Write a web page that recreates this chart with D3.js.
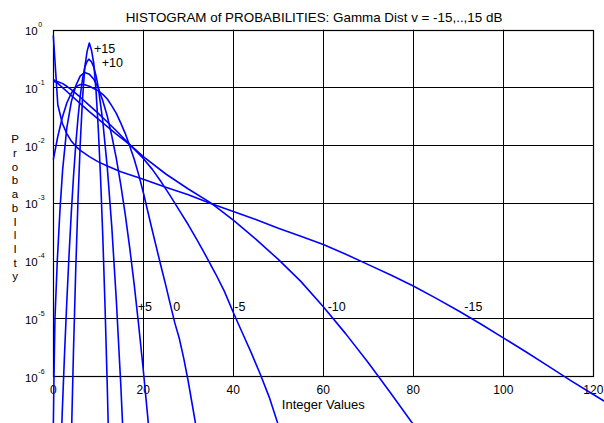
<!DOCTYPE html>
<html><head><meta charset="utf-8">
<script src="https://cdn.jsdelivr.net/npm/d3@7"></script>
<style>
body{margin:0;background:#fff}
svg{display:block}
text{font-family:Arial,"Liberation Sans",sans-serif;fill:#000}
</style>
</head><body>
<svg id="chart" width="604" height="423"></svg>
<script>
// ---------- data ----------
const titleText = "HISTOGRAM of PROBABILITIES: Gamma Dist v = -15,..,15 dB";
const xTickValues = [0, 20, 40, 60, 80, 100, 120];
const yTickExponents = [0, -1, -2, -3, -4, -5, -6];
const yLabelLetters = ["P","r","o","b","a","b","I","l","I","t","y"];
const seriesLabels = ["+15", "+10", "+5", "0", "-5", "-10", "-15"];

// integer value n and log10(probability) for each curve
const n_p15 = [4, 4.5, 5, 5.5, 6, 6.5, 7, 7.5, 8, 8.5, 9, 9.5, 10, 10.5, 11, 11.5, 12, 12.5];
const L_p15 = [-7.15, -5.52, -4.12, -2.93, -1.95, -1.19, -0.65, -0.38, -0.23, -0.36, -0.59, -1.06, -1.72, -2.56, -3.59, -4.80, -6.20, -7.79];

const n_p10 = [1.5, 2, 2.5, 3, 3.5, 4, 4.5, 5, 5.5, 6, 6.5, 7, 7.5, 7.9, 8.5, 9, 9.5, 10, 11, 12, 13, 14, 15, 16];
const L_p10 = [-7.68, -6.60, -5.61, -4.71, -3.90, -3.17, -2.53, -1.98, -1.52, -1.14, -0.85, -0.65, -0.55, -0.51, -0.56, -0.65, -0.80, -1.00, -1.59, -2.39, -3.42, -4.68, -6.16, -7.86];

const n_p5 = [0, 0.15, 0.37, 0.89, 1.5, 2.07, 3, 4, 5, 6, 7, 8, 9, 10, 11, 12, 13, 14, 15, 16, 17, 18, 19, 20, 21, 22];
const L_p5 = [-6.9, -6.0, -5.0, -4.0, -3.1, -2.43, -1.70, -1.25, -0.97, -0.80, -0.74, -0.77, -0.86, -1.01, -1.23, -1.50, -1.84, -2.23, -2.69, -3.21, -3.79, -4.43, -5.14, -5.90, -6.72, -7.60];

const n_0 = [0, 1, 2, 3, 4, 5, 6, 7, 8, 9, 10, 11, 12, 13, 14, 15, 16, 17, 18, 19, 20, 21, 22, 23, 24, 25, 26, 27, 28, 29, 30, 31, 32];
const L_0 = [-2.25, -1.85, -1.52, -1.27, -1.10, -0.99, -0.95, -0.955, -0.98, -1.02, -1.06, -1.12, -1.20, -1.32, -1.45, -1.62, -1.80, -2.02, -2.25, -2.52, -2.82, -3.15, -3.48, -3.80, -4.12, -4.43, -4.76, -5.08, -5.35, -5.70, -6.10, -6.55, -7.00];

const n_m5 = [0, 1, 2, 3, 4, 6, 8, 10, 12, 14, 16, 18, 20, 22, 24, 26, 28, 30, 32, 34, 36, 38, 40, 42, 44, 46, 48, 50];
const L_m5 = [-0.90, -0.90, -0.93, -0.98, -1.04, -1.17, -1.31, -1.45, -1.60, -1.75, -1.91, -2.07, -2.23, -2.42, -2.64, -2.88, -3.13, -3.38, -3.65, -3.93, -4.22, -4.53, -4.90, -5.25, -5.60, -5.97, -6.37, -6.85];

const n_m10 = [0, 2, 4, 6, 8, 10, 12, 14, 16, 18, 20, 25, 30, 35, 40, 45, 50, 55, 60, 65, 70, 75, 80];
const L_m10 = [-0.86, -1.00, -1.14, -1.28, -1.42, -1.55, -1.68, -1.81, -1.93, -2.06, -2.20, -2.50, -2.76, -3.00, -3.30, -3.63, -3.98, -4.36, -4.80, -5.27, -5.77, -6.30, -6.84];

const n_m15 = [0, 1, 2, 3, 4, 5, 6, 8, 10, 12, 15, 20, 25, 30, 35, 40, 45, 50, 55, 60, 65, 70, 75, 80, 85, 90, 95, 100, 105, 110, 115, 120, 125];
const L_m15 = [-0.10, -1.30, -1.62, -1.80, -1.93, -2.02, -2.09, -2.20, -2.29, -2.36, -2.46, -2.59, -2.73, -2.86, -3.01, -3.15, -3.29, -3.44, -3.58, -3.72, -3.89, -4.07, -4.25, -4.44, -4.65, -4.87, -5.10, -5.34, -5.58, -5.83, -6.08, -6.32, -6.56];

const seriesN = [n_p15, n_p10, n_p5, n_0, n_m5, n_m10, n_m15];
const seriesL = [L_p15, L_p10, L_p5, L_0, L_m5, L_m10, L_m15];

// ---------- drawing ----------
const svg = d3.select("#chart");
const pLeft = 53.3, pRight = 593.3, pTop = 29.7, pBottom = 376;
const x = d3.scaleLinear().domain([0, 120]).range([pLeft, pRight]);
const y = d3.scaleLog().domain([1e-6, 1]).range([pBottom, pTop]);

svg.append("text").attr("x", 314).attr("y", 21.5).attr("text-anchor", "middle")
  .style("font-size", "13.4px").text(titleText);

const g = svg.append("g");
g.selectAll("line.v").data(xTickValues.slice(1, -1)).join("line")
  .attr("x1", d => Math.round(x(d)) + 0.5).attr("x2", d => Math.round(x(d)) + 0.5)
  .attr("y1", pTop).attr("y2", pBottom).attr("stroke", "#000").attr("stroke-width", 1);
g.selectAll("line.h").data(yTickExponents.slice(1, -1)).join("line")
  .attr("x1", pLeft).attr("x2", pRight)
  .attr("y1", d => Math.round(y(Math.pow(10, d))) + 0.5).attr("y2", d => Math.round(y(Math.pow(10, d))) + 0.5)
  .attr("stroke", "#000").attr("stroke-width", 1);
g.append("rect").attr("x", Math.round(pLeft) + 0.5).attr("y", Math.round(pTop) + 0.5)
  .attr("width", Math.round(pRight) - Math.round(pLeft)).attr("height", Math.round(pBottom) - Math.round(pTop))
  .attr("fill", "none").attr("stroke", "#000").attr("stroke-width", 1.2);

svg.selectAll("text.xt").data(xTickValues).join("text")
  .attr("x", d => x(d)).attr("y", 394).attr("text-anchor", "middle")
  .style("font-size", "12px").text(d => d);
svg.append("text").attr("x", (pLeft + pRight) / 2).attr("y", 409).attr("text-anchor", "middle")
  .style("font-size", "13px").text("Integer Values");

yTickExponents.forEach(e => {
  const yy = y(Math.pow(10, e));
  svg.append("text").attr("x", 37.7).attr("y", yy + 5.5).attr("text-anchor", "end")
    .style("font-size", "11.5px").text("10");
  svg.append("text").attr("x", 38.3).attr("y", yy - 2.5).attr("text-anchor", "start")
    .style("font-size", "7px").text(String(e));
});

svg.selectAll("text.yl").data(yLabelLetters).join("text")
  .attr("x", 15).attr("y", (d, i) => 143.3 + i * 13.7).attr("text-anchor", "middle")
  .style("font-size", "11.5px").text(d => d);

const line = d3.line().x(d => x(d[0])).y(d => y(Math.pow(10, d[1])));
seriesN.forEach((ns, i) => {
  const pts = ns.map((n, j) => [n, seriesL[i][j]]);
  svg.append("path").attr("d", line(pts)).attr("fill", "none")
    .attr("stroke", "#0000ff").attr("stroke-width", 1.6).attr("stroke-linejoin", "round");
});

const labelPos = [[94, 53.3], [101.7, 67.3], [137.7, 310.5], [173.3, 310.5], [234.3, 310.5], [327.7, 310.5], [464.3, 310.5]];
seriesLabels.forEach((s, i) => {
  svg.append("text").attr("x", labelPos[i][0]).attr("y", labelPos[i][1])
    .style("font-size", "12.5px").text(s);
});
</script>
</body></html>
